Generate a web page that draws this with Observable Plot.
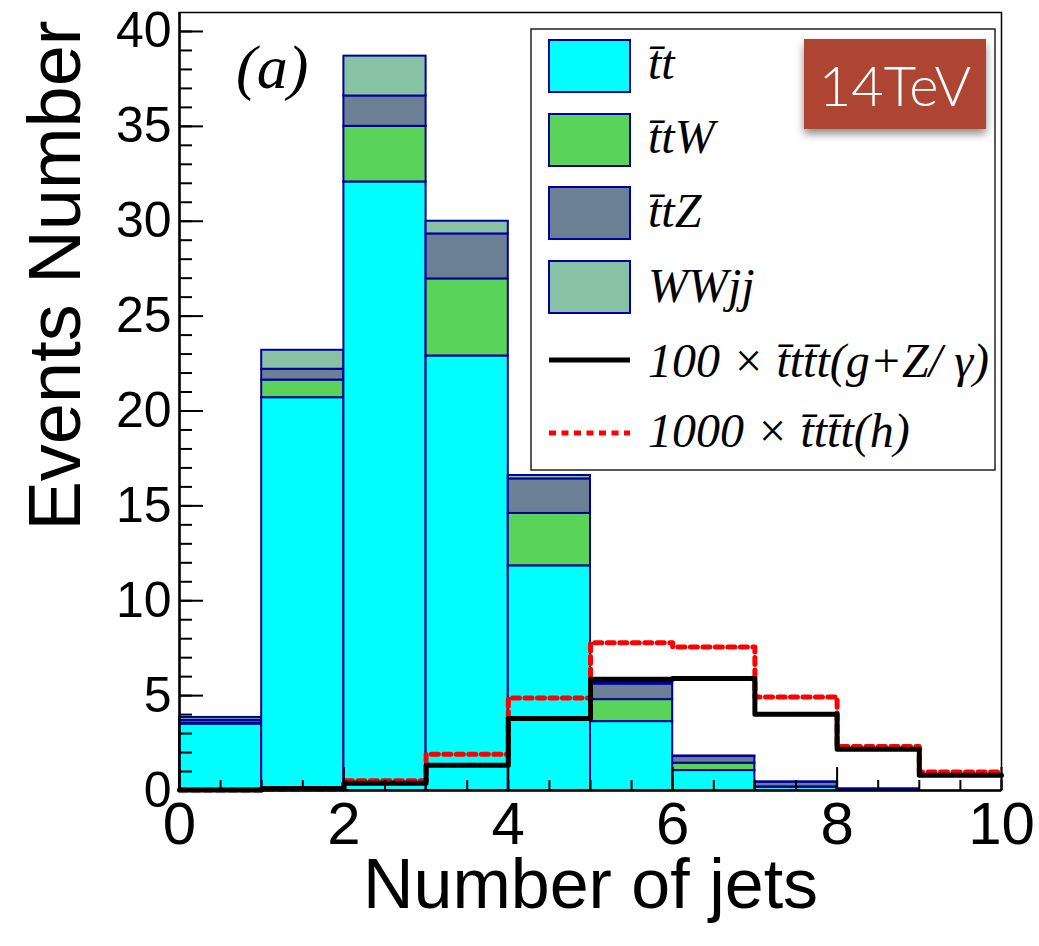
<!DOCTYPE html>
<html><head><meta charset="utf-8">
<script src="https://cdn.jsdelivr.net/npm/d3@7"></script>
<script src="https://cdn.jsdelivr.net/npm/@observablehq/plot@0.6"></script>
<style>
body{margin:0;background:#fff;}
#chart{width:1039px;height:946px;}
</style></head><body><div id="chart"></div>
<script>
// ---- data ----
const bins = [0, 1, 2, 3, 4, 5, 6, 7, 8, 9];           // lower bin edges, Number of jets
const ttbar = [3.50, 20.70, 32.07, 22.90, 11.84, 3.63, 1.05, 0.17, 0.05, 0];
const ttW   = [0.05, 0.93, 2.93, 4.06, 2.76, 1.16, 0.39, 0.02, 0.01, 0];
const ttZ   = [0.15, 0.57, 1.60, 2.37, 1.82, 0.82, 0.35, 0.25, 0.03, 0];
const WWjj  = [0.15, 1.00, 2.10, 0.67, 0.18, 0.09, 0.03, 0.01, 0.00, 0];
const tttt_gZ = [0.03, 0.10, 0.38, 1.33, 3.79, 5.86, 5.90, 4.02, 2.18, 0.81]; // 100 x
const tttt_h  = [0.03, 0.08, 0.51, 1.91, 4.88, 7.79, 7.56, 4.93, 2.32, 0.98]; // 1000 x
const seriesNames  = ["t\u0304t", "t\u0304tW", "t\u0304tZ", "WWjj"];
const seriesColors = ["#00ffff", "#59d459", "#6b8094", "#87c2a5"];
const lineNames = ["100 \u00d7 t\u0304tt\u0304t(g+Z/ \u03b3)", "1000 \u00d7 t\u0304tt\u0304t(h)"];
const xMajor = [0, 2, 4, 6, 8, 10];
const xMinor = d3.range(0, 10.01, 0.5);
const yMajor = [0, 5, 10, 15, 20, 25, 30, 35, 40];
const yMinor = d3.range(0, 41, 1);
const energyLabel = "14TeV";
const panelLabel = "(a)";

// ---- build stacked table ----
const stackSeries = [ttbar, ttW, ttZ, WWjj];
const rows = [];
bins.forEach((b, i) => {
  let base = 0;
  stackSeries.forEach((s, k) => {
    rows.push({x1: b, x2: b + 1, y1: base, y2: base + s[i], series: seriesNames[k]});
    base += s[i];
  });
});
const edges = bins.concat([bins.length]);
const stepGZ = edges.map((e, i) => ({x: e, y: tttt_gZ[Math.min(i, bins.length - 1)]}));
const stepH  = edges.map((e, i) => ({x: e, y: tttt_h[Math.min(i, bins.length - 1)]}));

const sans = "'Liberation Sans', Arial, Helvetica, sans-serif";
const plot = Plot.plot({
  width: 1039, height: 946,
  marginLeft: 179, marginRight: 38, marginTop: 12, marginBottom: 156,
  x: {domain: [0, 10]},
  y: {domain: [0, 41]},
  color: {domain: seriesNames, range: seriesColors},
  style: {fontFamily: sans, background: "white", color: "black"},
  marks: [
    Plot.rect(rows, {x1: "x1", x2: "x2", y1: "y1", y2: "y2", fill: "series", stroke: "#000099", strokeWidth: 2}),
    Plot.line(stepH, {x: "x", y: "y", curve: "step-after", stroke: "#ff0000", strokeWidth: 5, strokeDasharray: "7,5.5"}),
    Plot.line(stepGZ, {x: "x", y: "y", curve: "step-after", stroke: "black", strokeWidth: 5}),
    Plot.frame({stroke: "black", strokeWidth: 1.5}),
    Plot.ruleX([0], {stroke: "black", strokeWidth: 2.5}),
    Plot.ruleY([0], {stroke: "black", strokeWidth: 2.5}),
    Plot.axisY(yMinor, {tickSize: 13, dx: 13, fill: "none", label: null, strokeWidth: 2}),
    Plot.axisY(yMajor, {tickSize: 24, dx: 24, fill: "none", label: null, strokeWidth: 2}),
    Plot.axisX(xMinor, {tickSize: 10, dy: -10, fill: "none", label: null, strokeWidth: 2}),
    Plot.axisX(xMajor, {tickSize: 23, dy: -23, fill: "none", label: null, strokeWidth: 2}),
    Plot.axisY(yMajor, {tickSize: 0, tickPadding: 8, fontSize: 50, label: null}),
    Plot.axisX(xMajor, {tickSize: 0, tickPadding: 11, fontSize: 60, label: null}),
    Plot.text(["Number of jets"], {frameAnchor: "bottom", dy: 117, fontSize: 70}),
    Plot.text(["Events Number"], {frameAnchor: "top-left", rotate: -90, textAnchor: "end", dx: -152, dy: 8, fontSize: 74})
  ]
});
document.getElementById("chart").appendChild(plot);

// ---- legend, panel label and energy badge ----
const svg = d3.select(plot);
const defs = svg.append("defs");
const f = defs.append("filter").attr("id", "shadow").attr("x", "-20%").attr("y", "-20%").attr("width", "140%").attr("height", "150%");
f.append("feDropShadow").attr("dx", 0).attr("dy", 5).attr("stdDeviation", 4).attr("flood-color", "#000").attr("flood-opacity", 0.45);

const serif = "'Liberation Serif', 'Times New Roman', serif";
svg.append("text").attr("x", 236).attr("y", 88).attr("text-anchor", "start").attr("font-family", serif)
  .attr("font-style", "italic").attr("font-size", 62).attr("fill", "black").text(panelLabel);

const lg = svg.append("g").attr("text-anchor", "start");
lg.append("rect").attr("x", 531).attr("y", 29).attr("width", 464).attr("height", 441)
  .attr("fill", "white").attr("stroke", "#222").attr("stroke-width", 1.5);
const swY = [40, 114, 187, 261];
seriesNames.forEach((n, k) => {
  lg.append("rect").attr("x", 549).attr("y", swY[k]).attr("width", 81).attr("height", 52)
    .attr("fill", seriesColors[k]).attr("stroke", "#0000aa").attr("stroke-width", 2);
});
const baselines = [79, 153, 227, 302, 377, 447];
const labels = seriesNames.concat(lineNames);
labels.forEach((n, k) => {
  lg.append("text").attr("x", 648).attr("y", baselines[k]).attr("text-anchor", "start").attr("font-family", serif)
    .attr("font-style", "italic").attr("font-size", 48).attr("fill", "black")
    .style("white-space", "pre").text(n);
});
lg.append("line").attr("x1", 549).attr("x2", 630).attr("y1", 360).attr("y2", 360).attr("stroke", "black").attr("stroke-width", 5);
lg.append("line").attr("x1", 549).attr("x2", 630).attr("y1", 433).attr("y2", 433).attr("stroke", "#ff0000").attr("stroke-width", 5).attr("stroke-dasharray", "7,5.5");

const badge = svg.append("g");
badge.append("rect").attr("x", 804).attr("y", 39).attr("width", 182).attr("height", 90).attr("fill", "#ad4432").attr("filter", "url(#shadow)");
badge.append("text").attr("x", 895).attr("y", 106).attr("text-anchor", "middle").attr("font-family", "'Lato', 'Roboto', 'Liberation Sans', sans-serif")
  .attr("font-weight", 300).attr("font-size", 56).attr("fill", "white").text(energyLabel);
</script>
</body></html>
